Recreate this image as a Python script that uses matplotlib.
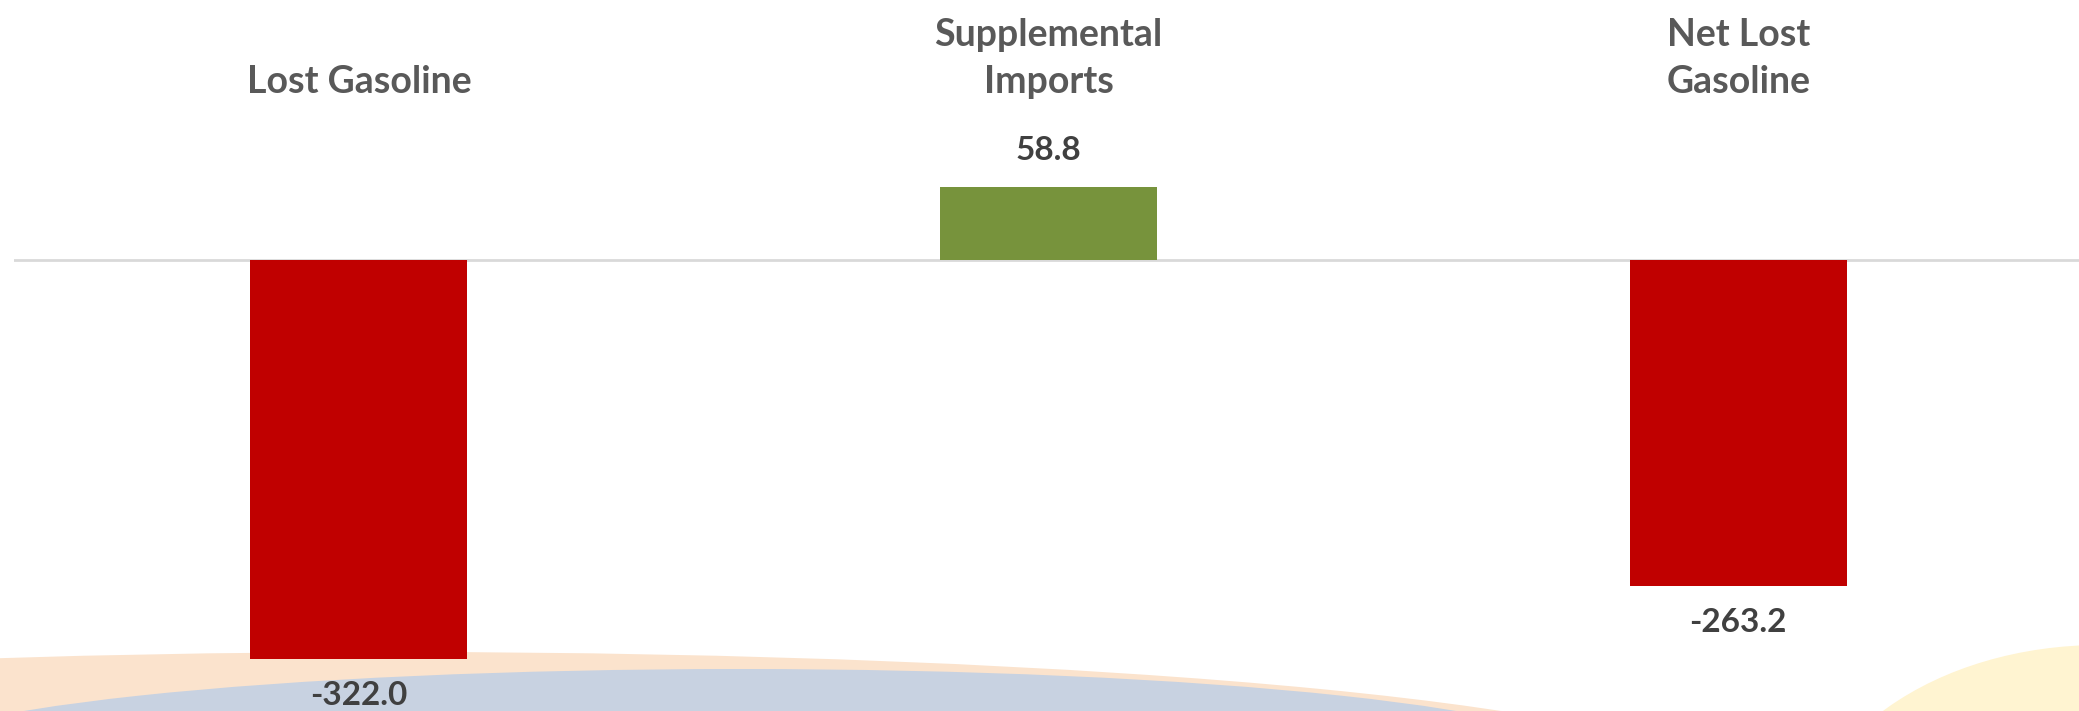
import matplotlib
matplotlib.use("Agg")
import matplotlib.pyplot as plt
from matplotlib.patches import Ellipse
from matplotlib.transforms import blended_transform_factory

# chart data
categories = ["Lost Gasoline", "Supplemental\nImports", "Net Lost\nGasoline"]
values = [-322.0, 58.8, -263.2]
bar_colors = ["#C00000", "#77933C", "#C00000"]

W, H = 2079, 711
plt.rcParams['font.family'] = ['Lato', 'DejaVu Sans']

fig = plt.figure(figsize=(W / 100, H / 100), dpi=100)

# slide background decoration (pixel coordinates)
bg = fig.add_axes([0, 0, 1, 1], zorder=0)
bg.set_xlim(0, W)
bg.set_ylim(H, 0)
bg.axis("off")
bg.add_patch(Ellipse((400, 778), 2600, 252, color="#FBE3CD", lw=0))
bg.add_patch(Ellipse((740, 760), 1700, 182, color="#C8D2E1", lw=0))
bg.add_patch(Ellipse((2100, 858), 600, 426, color="#FFF4D1", lw=0))

# main chart
ax = fig.add_axes([14 / W, 0, 2069 / W, 1], zorder=1)
ax.patch.set_alpha(0)
x = list(range(len(categories)))
bars = ax.bar(x, values, width=0.315, color=bar_colors, zorder=2)
ax.set_xlim(-0.5, len(categories) - 0.5)
ax.set_ylim(-364, 209.8)
ax.axhline(0, color="#D9D9D9", lw=2, zorder=1)
for s in ax.spines.values():
    s.set_visible(False)
ax.set_xticks([])
ax.set_yticks([])

# category names along the top
trans = blended_transform_factory(ax.transData, ax.transAxes)
for xi, name in zip(x, categories):
    ax.text(xi, 1 - 93 / H, name, transform=trans, ha="center", va="baseline",
            fontsize=27, fontweight="bold", color="#595959", linespacing=1.45)

# value labels
for b, v in zip(bars, values):
    xc = b.get_x() + b.get_width() / 2
    if v >= 0:
        ax.annotate(f"{v:.1f}", (xc, v), xytext=(0, 16), textcoords="offset points",
                    ha="center", va="bottom", fontsize=24, fontweight="bold", color="#404040")
    else:
        ax.annotate(f"{v:.1f}", (xc, v), xytext=(0, -16), textcoords="offset points",
                    ha="center", va="top", fontsize=24, fontweight="bold", color="#404040",
                    annotation_clip=False)

fig.savefig("out.png", dpi=100)
